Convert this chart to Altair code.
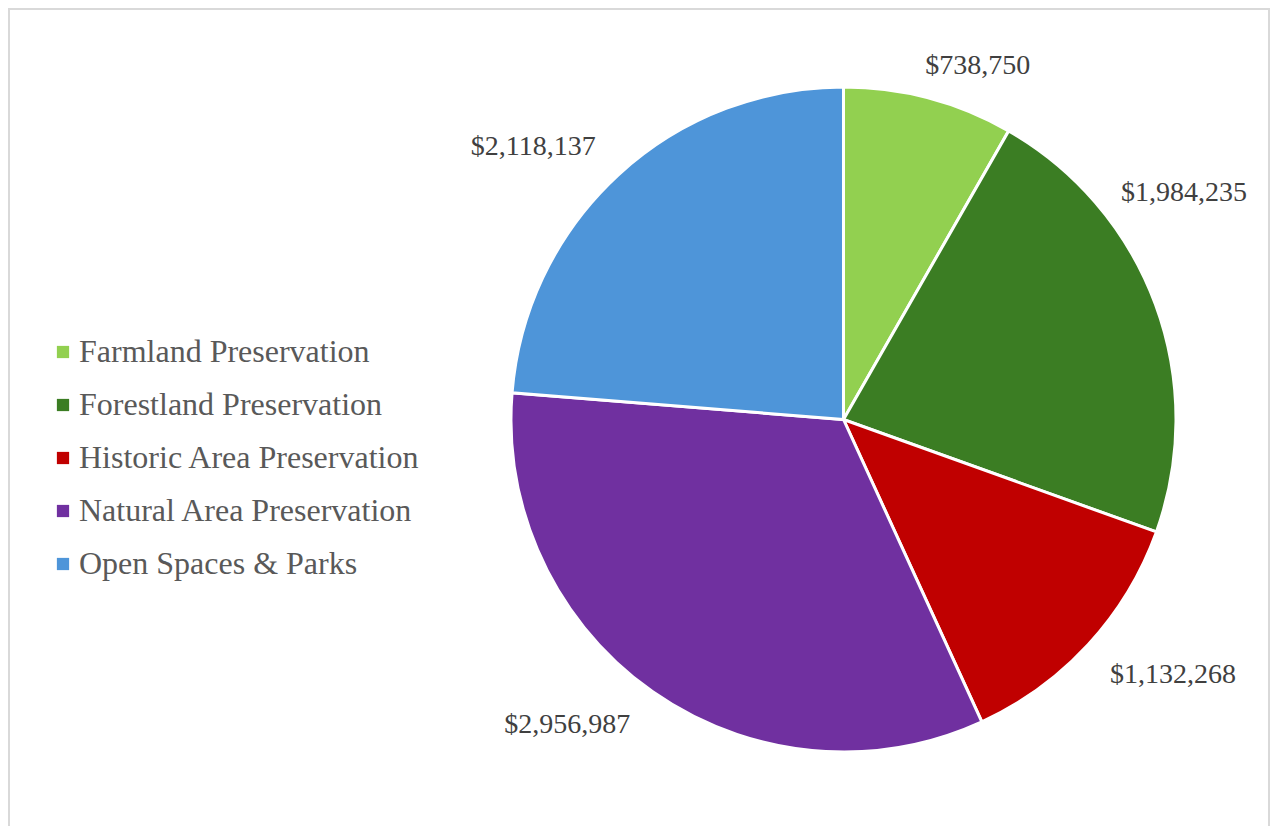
import altair as alt
import pandas as pd

categories = [
    "Farmland Preservation",
    "Forestland Preservation",
    "Historic Area Preservation",
    "Natural Area Preservation",
    "Open Spaces & Parks",
]
amounts = [738750, 1984235, 1132268, 2956987, 2118137]
labels = ["$738,750", "$1,984,235", "$1,132,268", "$2,956,987", "$2,118,137"]
colors = ["#92D050", "#3B7D23", "#C00000", "#7030A0", "#4E95D9"]

# label placement (style): angular nudge from the slice middle (deg) and radius (px)
label_shift_deg = [5.9, -13.4, -4.8, 7.1, -6.0]
label_radius = [378, 409, 417, 412, 413]

df = pd.DataFrame({
    "idx": list(range(len(categories))),
    "category": categories,
    "amount": amounts,
    "label": labels,
    "shift": label_shift_deg,
    "lr": label_radius,
})

CX, CY, R = 835.5, 411.5, 332.5
FONT = "Liberation Serif"

color = alt.Color(
    "category:N",
    scale=alt.Scale(domain=categories, range=colors),
    legend=alt.Legend(
        title=None,
        orient="none",
        legendX=39,
        legendY=328,
        symbolType="square",
        symbolSize=150,
        symbolStrokeWidth=0,
        labelFont=FONT,
        labelFontSize=32,
        labelColor="#595959",
        labelOffset=0,
        rowPadding=21,
        padding=0,
        labelLimit=600,
    ),
)

base = alt.Chart(df)

pie = base.mark_arc(outerRadius=R, stroke="white", strokeWidth=3).encode(
    theta=alt.Theta("amount:Q", stack=True),
    color=color,
    order=alt.Order("idx:Q"),
    x=alt.value(CX),
    y=alt.value(CY),
)

text = base.transform_joinaggregate(
    total="sum(amount)"
).transform_window(
    cum="sum(amount)", sort=[alt.SortField("idx")], frame=[None, 0]
).transform_calculate(
    lt="(datum.cum - datum.amount/2) / datum.total * 2 * PI + datum.shift * PI / 180"
).mark_text(
    font=FONT, fontSize=28, color="#404040", align="center", baseline="middle"
).encode(
    theta=alt.Theta("lt:Q", scale=None, stack=None),
    radius=alt.Radius("lr:Q", scale=None),
    text="label:N",
    x=alt.value(CX),
    y=alt.value(CY),
)

border = alt.Chart(pd.DataFrame({"a": [0]})).mark_rect(
    fill=None, stroke="#d9d9d9", strokeWidth=2
).encode(
    x=alt.value(1), x2=alt.value(1261), y=alt.value(1), y2=alt.value(830)
)

chart = alt.layer(border, pie, text).properties(
    width=1262, height=818, autosize=alt.AutoSizeParams(type="none"), padding=0
).configure_view(stroke=None).configure(background="white")

chart.save("out.html", embed_options={"renderer": "svg", "actions": False})
